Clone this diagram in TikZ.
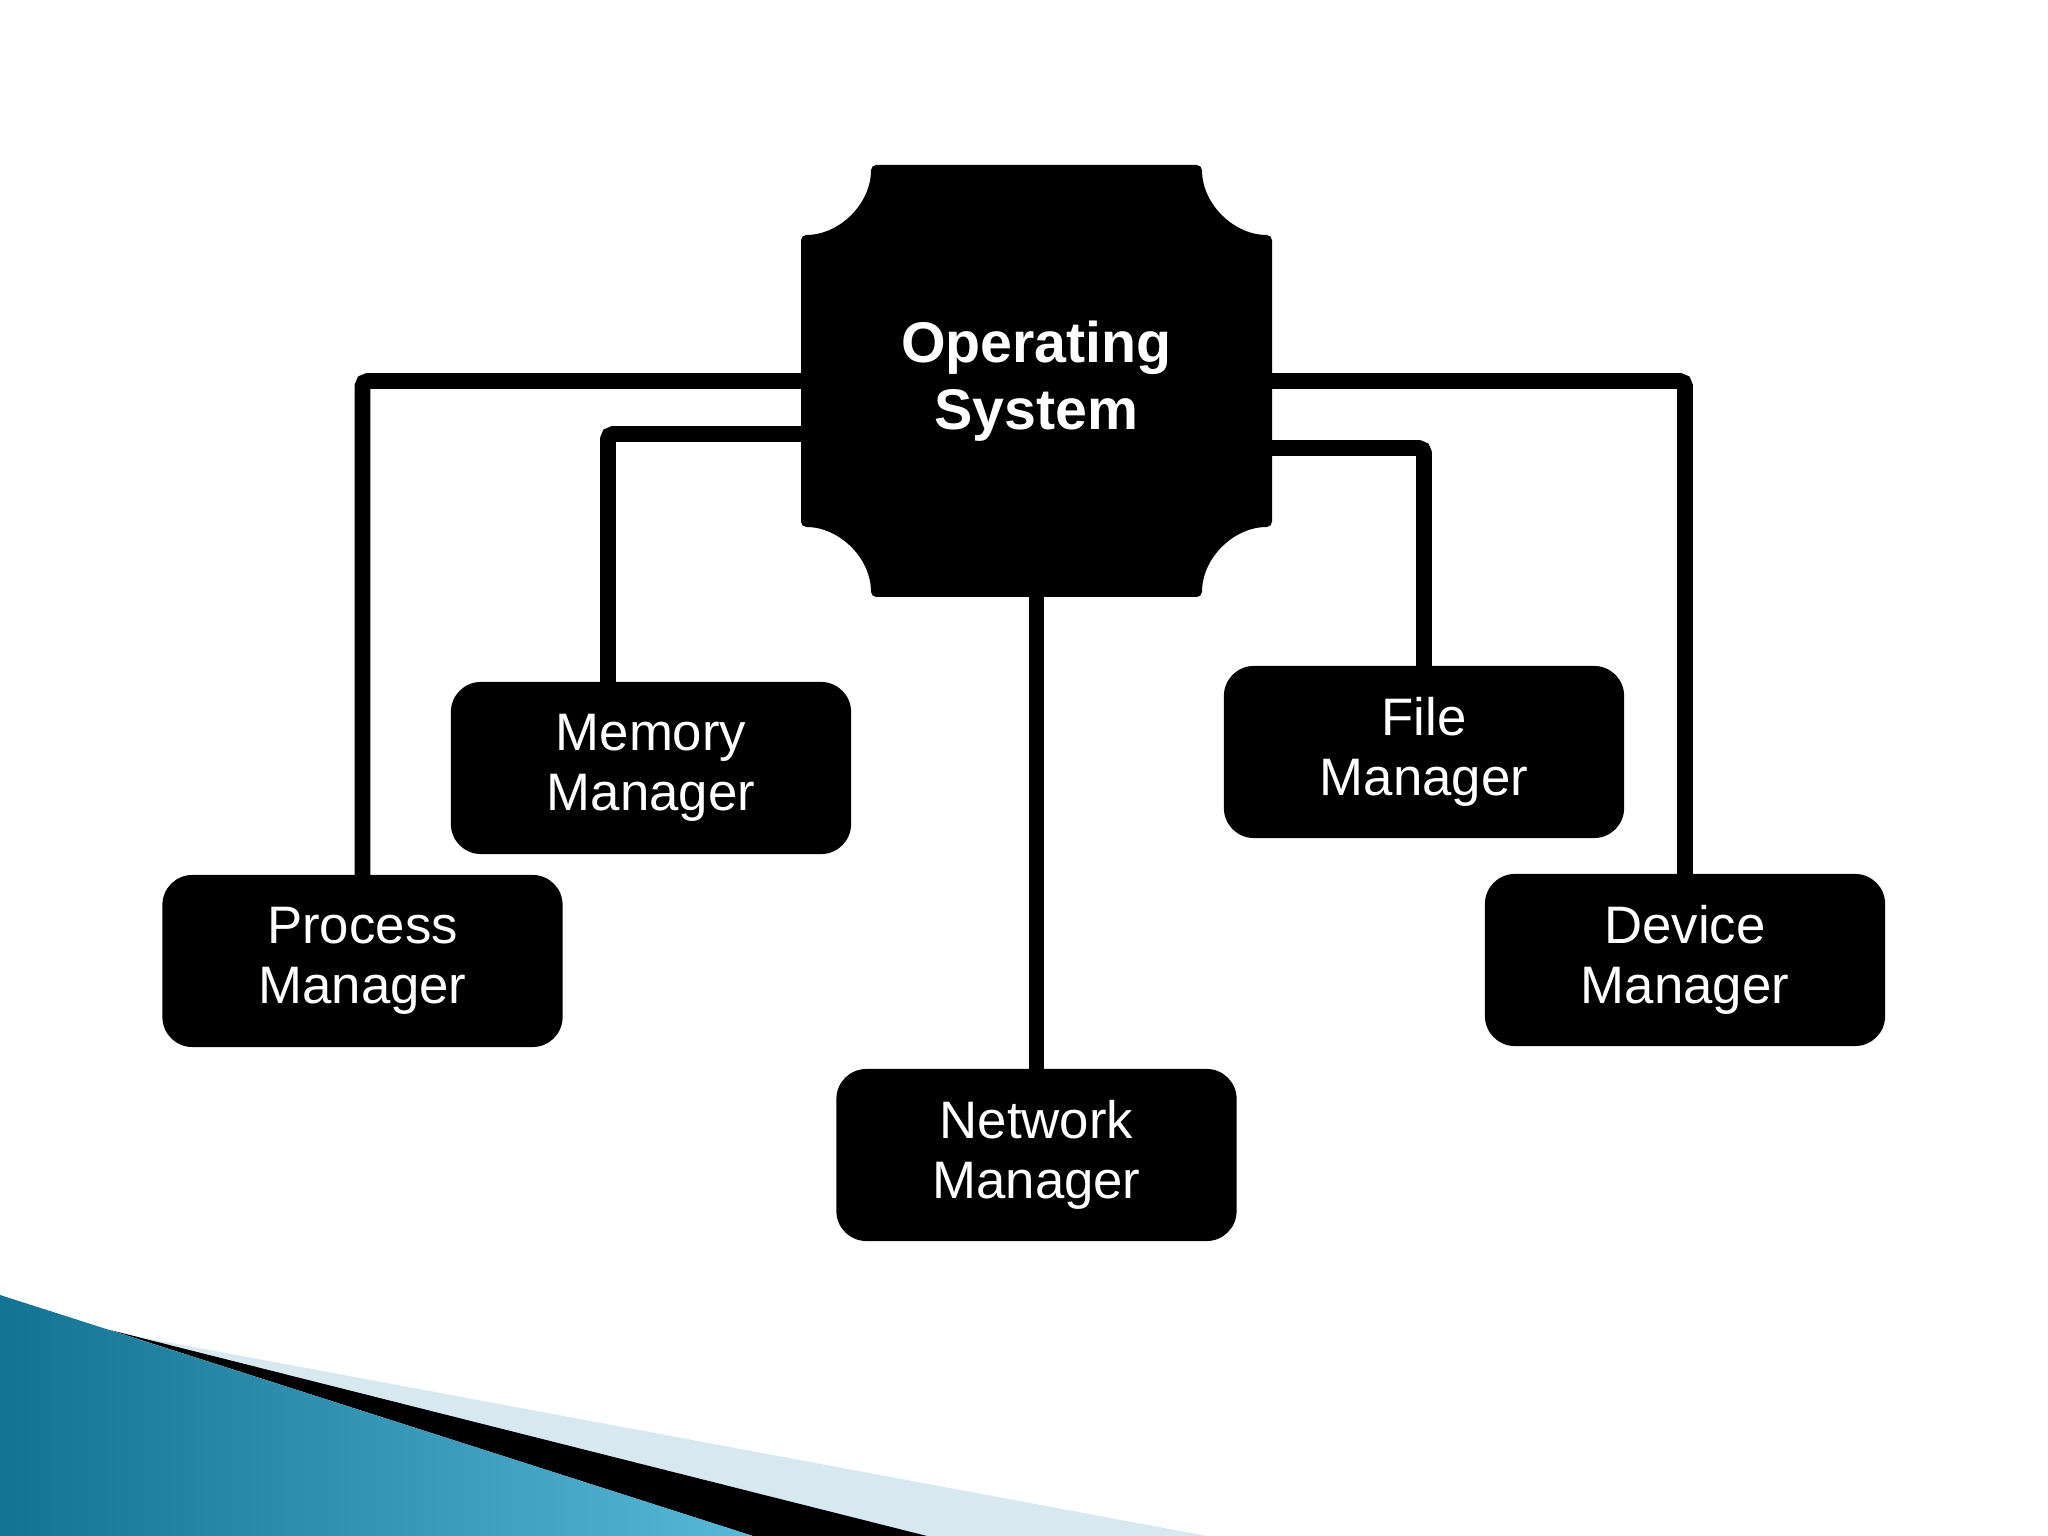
\documentclass[tikz,border=0pt]{standalone}
\usepackage{fontspec}
\setmainfont{Liberation Sans}
\usetikzlibrary{calc}
\definecolor{paleblue}{RGB}{215,232,241}
\definecolor{tealdark}{RGB}{20,114,146}
\definecolor{teallight}{RGB}{88,184,215}

\begin{document}
\begin{tikzpicture}[x=0.01cm,y=0.01cm,
  mgr/.style={fill=black,text=white,rounded corners=0.3cm,minimum width=4cm,minimum height=1.72cm,
    align=center,inner sep=0pt,outer sep=0pt,font=\fontsize{15}{17.1}\selectfont},
  link/.style={line width=4.5pt,rounded corners=1.5pt}]
\useasboundingbox (0,0) rectangle (2048,1536);
% swoosh in the lower left corner
\fill[paleblue] (140,199) -- (1207,0) -- (927,0) -- cycle;
\fill[black] (110,206) -- (927,0) -- (753,0) -- cycle;
\shade[left color=tealdark,right color=teallight] (0,241) -- (753,0) -- (0,0) -- cycle;
% operating system block with notched corners
\fill[black,rounded corners=1.5pt] (1036,1371) -- (1202,1371) arc[start angle=180,end angle=270,radius=70]
  -- (1272,1009) arc[start angle=90,end angle=180,radius=70]
  -- (871,939) arc[start angle=0,end angle=90,radius=70]
  -- (801,1301) arc[start angle=270,end angle=360,radius=70] -- cycle;
\node[text=white,minimum width=4.71cm,minimum height=4.32cm,align=center,inner sep=0pt,outer sep=0pt,
  font=\fontsize{16.3}{19.1}\selectfont\bfseries] (os) at (1036.5,1155) {Operating\\System};
% managers
\node[mgr] (proc) at (362.5,575) {Process\\Manager};
\node[mgr] (mem) at (651,768) {Memory\\Manager};
\node[mgr] (file) at (1424,784) {File\\Manager};
\node[mgr] (dev) at (1685,576) {Device\\Manager};
\node[mgr] (net) at (1036.5,381) {Network\\Manager};
% links
\draw[link] (os.west) -| (proc.north);
\draw[link] ([yshift=-0.53cm]os.west) -| ([xshift=-0.43cm]mem.north);
\draw[link] (os.east) -| (dev.north);
\draw[link] ([yshift=-0.67cm]os.east) -| (file.north);
\draw[link] (os.south) -- (net.north);
\end{tikzpicture}
\end{document}
